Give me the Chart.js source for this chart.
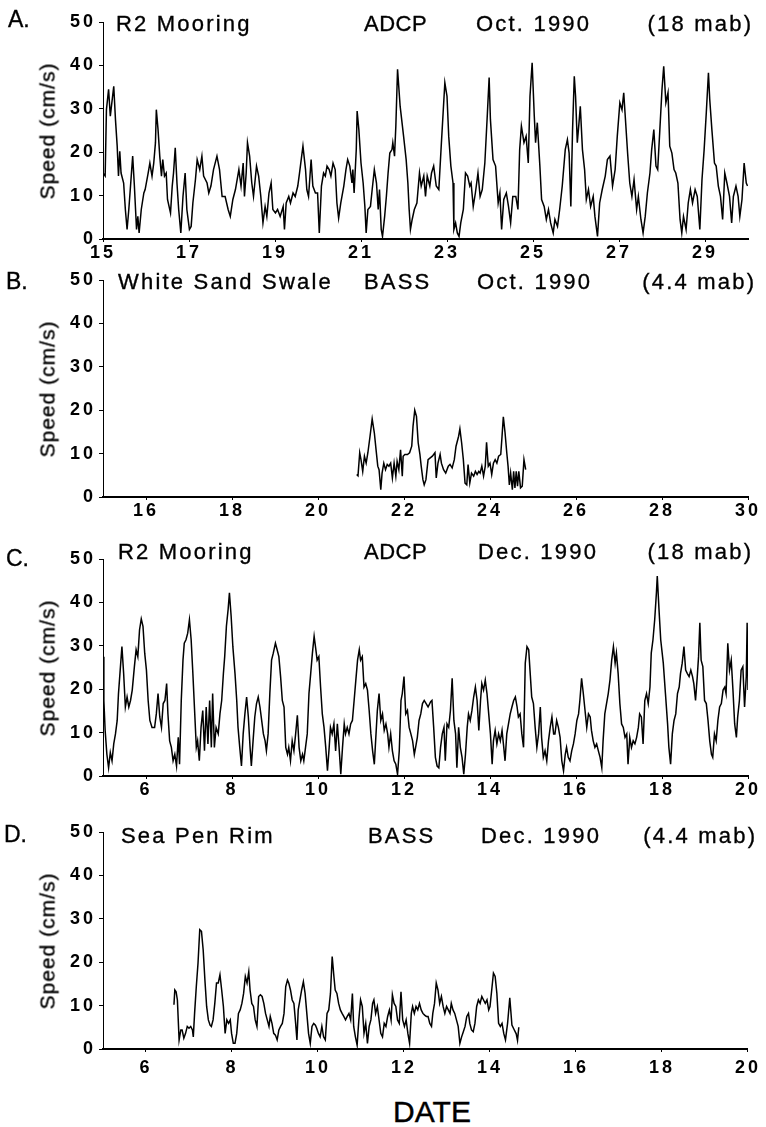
<!DOCTYPE html>
<html><head><meta charset="utf-8">
<script src="https://cdn.jsdelivr.net/npm/chart.js@4.4.1/dist/chart.umd.min.js"></script>
<style>
html,body{margin:0;padding:0;background:#fff;}
#wrap{position:relative;width:766px;height:1127px;overflow:hidden;background:#fff;font-family:"Liberation Sans",Arial,Helvetica,sans-serif;color:#000;}
#wrap canvas{position:absolute;left:0;}
.t{position:absolute;white-space:nowrap;font-size:22px;line-height:22px;letter-spacing:2.2px;-webkit-text-stroke:0.35px #000;}
.lt{position:absolute;white-space:nowrap;font-size:23px;line-height:23px;-webkit-text-stroke:0.35px #000;}
.yl{position:absolute;white-space:nowrap;font-size:21px;line-height:21px;letter-spacing:1px;-webkit-text-stroke:0.35px #000;transform:translate(-50%,-50%) rotate(-90deg);}
.xl{position:absolute;white-space:nowrap;font-size:30px;line-height:30px;-webkit-text-stroke:0.4px #000;transform:translateX(-50%);}
</style></head><body><div id="wrap"></div>
<script>
// ---------- DATA ----------
const panelLetters = ['A.', 'B.', 'C.', 'D.'];
const titlesA = ['R2 Mooring', 'ADCP', 'Oct. 1990', '(18 mab)'];
const titlesB = ['White Sand Swale', 'BASS', 'Oct. 1990', '(4.4 mab)'];
const titlesC = ['R2 Mooring', 'ADCP', 'Dec. 1990', '(18 mab)'];
const titlesD = ['Sea Pen Rim', 'BASS', 'Dec. 1990', '(4.4 mab)'];
const yAxisTitle = 'Speed (cm/s)';
const xAxisTitle = 'DATE';
const yTicks = [0, 10, 20, 30, 40, 50];
const xTicksA = [15, 17, 19, 21, 23, 25, 27, 29];
const xTicksB = [16, 18, 20, 22, 24, 26, 28, 30];
const xTicksCD = [6, 8, 10, 12, 14, 16, 18, 20];

// [day, speed cm/s]
const seriesA = [
[15.00,15.2],[15.05,14.5],[15.08,29.8],[15.13,34.5],[15.17,28.3],[15.25,35.2],[15.29,27.5],[15.33,21.4],[15.36,14.5],[15.39,20.2],
[15.42,15.2],[15.48,12.9],[15.52,6.8],[15.56,2.2],[15.60,6.8],[15.64,12.2],[15.69,19.1],[15.73,12.2],[15.78,2.2],[15.81,5.2],
[15.84,1.4],[15.89,6.8],[15.95,10.6],[15.98,11.4],[16.05,15.2],[16.09,17.5],[16.14,14.5],[16.18,17.5],[16.22,22.2],[16.24,29.8],
[16.28,25.2],[16.32,19.1],[16.36,14.5],[16.39,18.3],[16.43,14.5],[16.47,15.2],[16.50,9.1],[16.57,6.0],[16.61,12.2],[16.64,15.2],
[16.68,21.0],[16.72,12.9],[16.76,6.8],[16.81,1.4],[16.86,9.8],[16.91,15.2],[16.95,6.8],[17.01,2.2],[17.05,2.9],[17.09,8.3],
[17.15,13.7],[17.19,18.3],[17.25,16.0],[17.30,19.1],[17.34,14.5],[17.42,12.9],[17.46,10.6],[17.51,12.2],[17.57,16.0],[17.65,19.1],
[17.71,16.0],[17.77,9.8],[17.84,9.8],[17.91,6.8],[17.96,5.2],[18.02,9.1],[18.08,11.4],[18.16,16.0],[18.21,12.2],[18.26,17.5],
[18.29,9.8],[18.33,15.2],[18.36,22.2],[18.41,19.1],[18.46,12.9],[18.50,9.8],[18.57,16.8],[18.62,14.5],[18.67,9.8],[18.72,3.7],
[18.77,7.5],[18.81,5.2],[18.86,10.6],[18.91,12.9],[18.95,6.8],[19.01,6.0],[19.06,6.8],[19.12,5.2],[19.19,7.5],[19.22,2.2],
[19.26,8.3],[19.32,9.8],[19.36,8.3],[19.42,10.6],[19.47,9.8],[19.53,12.2],[19.57,15.2],[19.62,19.1],[19.65,21.4],[19.71,16.0],
[19.74,11.4],[19.78,9.8],[19.84,18.3],[19.88,12.2],[19.94,10.6],[19.99,10.6],[20.03,1.4],[20.08,12.2],[20.13,15.2],[20.17,14.5],
[20.21,16.8],[20.26,16.0],[20.30,14.5],[20.35,17.5],[20.40,16.0],[20.44,8.3],[20.48,4.8],[20.53,8.3],[20.60,12.2],[20.65,16.0],
[20.69,18.3],[20.74,16.8],[20.79,12.9],[20.81,16.0],[20.84,10.6],[20.89,20.6],[20.91,29.5],[20.95,25.2],[21.00,17.5],[21.05,12.9],
[21.09,7.5],[21.12,1.4],[21.16,6.8],[21.22,7.5],[21.26,11.4],[21.31,16.0],[21.36,12.9],[21.40,6.8],[21.43,11.4],[21.47,2.2],
[21.50,0.6],[21.55,5.2],[21.59,9.8],[21.63,15.2],[21.67,19.8],[21.72,20.6],[21.74,22.2],[21.78,19.1],[21.81,26.0],[21.85,39.1],
[21.91,30.6],[21.99,23.7],[22.05,18.3],[22.09,12.9],[22.12,6.8],[22.15,2.2],[22.19,4.5],[22.24,6.8],[22.30,8.3],[22.36,15.2],
[22.40,12.2],[22.46,14.5],[22.50,9.8],[22.54,14.5],[22.60,12.2],[22.64,15.2],[22.69,16.8],[22.75,12.2],[22.81,11.4],[22.87,22.2],
[22.91,29.1],[22.95,36.0],[23.00,32.9],[23.04,23.7],[23.09,16.8],[23.14,12.9],[23.16,2.2],[23.20,3.7],[23.24,1.4],[23.28,0.6],
[23.32,3.7],[23.38,6.8],[23.43,15.2],[23.48,14.5],[23.53,12.2],[23.56,12.9],[23.61,7.5],[23.66,10.6],[23.72,15.2],[23.77,9.8],
[23.82,11.4],[23.88,17.5],[23.94,29.1],[23.98,37.2],[24.01,27.5],[24.07,18.3],[24.13,16.8],[24.19,8.3],[24.23,10.6],[24.27,2.2],
[24.32,9.1],[24.38,10.6],[24.43,7.5],[24.48,3.7],[24.53,9.8],[24.60,9.8],[24.65,6.8],[24.69,20.6],[24.73,26.0],[24.79,22.2],
[24.84,23.7],[24.89,17.5],[24.93,32.9],[24.98,40.6],[25.03,28.3],[25.06,22.2],[25.10,26.8],[25.16,16.8],[25.20,9.1],[25.26,7.5],
[25.31,4.5],[25.36,6.8],[25.41,3.7],[25.47,1.4],[25.51,4.5],[25.57,2.9],[25.62,6.8],[25.68,12.2],[25.75,20.6],[25.80,22.9],
[25.84,19.8],[25.88,7.5],[25.92,25.2],[25.96,37.5],[25.99,32.9],[26.03,22.2],[26.07,26.8],[26.10,30.6],[26.15,20.6],[26.20,16.0],
[26.24,9.1],[26.29,11.4],[26.34,7.5],[26.40,9.8],[26.44,5.2],[26.50,0.6],[26.55,8.3],[26.61,11.4],[26.68,14.5],[26.73,18.3],
[26.79,19.1],[26.85,12.2],[26.91,16.0],[26.96,23.7],[27.02,31.4],[27.07,29.8],[27.11,33.7],[27.14,29.1],[27.20,19.8],[27.25,12.9],
[27.30,9.8],[27.35,13.7],[27.41,6.8],[27.45,9.8],[27.51,4.5],[27.56,1.4],[27.61,5.2],[27.66,10.6],[27.72,15.2],[27.76,20.6],
[27.81,25.2],[27.86,16.8],[27.90,16.0],[27.95,25.2],[28.00,34.5],[28.04,39.8],[28.09,31.4],[28.14,33.7],[28.18,21.4],[28.23,19.8],
[28.28,16.0],[28.32,15.2],[28.37,12.9],[28.42,4.5],[28.46,1.4],[28.50,5.2],[28.56,2.2],[28.61,8.3],[28.66,11.4],[28.71,8.3],
[28.77,11.4],[28.82,9.8],[28.88,2.2],[28.93,13.7],[28.98,20.6],[29.03,29.1],[29.08,38.3],[29.11,32.2],[29.16,25.2],[29.22,17.5],
[29.26,16.8],[29.31,12.2],[29.36,9.8],[29.41,4.5],[29.46,15.2],[29.51,12.9],[29.57,9.8],[29.62,3.7],[29.66,9.8],[29.72,12.2],
[29.77,9.8],[29.81,5.2],[29.86,9.1],[29.91,17.5],[29.96,12.9],[29.99,12.2]
];

const seriesB = [
[20.90,5.2],[20.93,4.9],[20.97,10.2],[21.00,8.6],[21.04,5.9],[21.08,9.4],[21.12,7.8],[21.16,10.2],[21.21,14.0],[21.26,18.0],
[21.31,14.8],[21.35,10.9],[21.39,7.1],[21.42,6.3],[21.46,1.7],[21.49,5.5],[21.53,7.8],[21.57,6.3],[21.61,7.5],[21.65,7.1],
[21.69,7.8],[21.73,4.4],[21.77,7.8],[21.81,4.8],[21.84,8.2],[21.88,6.3],[21.92,10.9],[21.96,4.8],[21.98,9.4],[22.02,9.8],
[22.08,9.8],[22.13,10.2],[22.18,11.7],[22.21,16.3],[22.25,20.0],[22.29,18.6],[22.33,12.5],[22.37,9.8],[22.40,7.1],[22.44,4.0],
[22.47,2.8],[22.51,4.0],[22.56,8.6],[22.61,9.0],[22.66,9.4],[22.72,10.2],[22.75,4.4],[22.79,7.8],[22.84,9.8],[22.87,7.8],
[22.92,6.3],[22.97,5.5],[23.03,7.1],[23.07,7.5],[23.12,6.7],[23.17,8.6],[23.21,11.7],[23.27,14.0],[23.30,15.7],[23.34,12.5],
[23.38,8.6],[23.42,3.2],[23.46,2.8],[23.49,7.5],[23.53,3.2],[23.57,5.5],[23.62,4.8],[23.66,5.9],[23.70,5.2],[23.74,5.9],
[23.77,5.5],[23.81,7.1],[23.85,4.8],[23.89,7.1],[23.92,12.6],[23.96,7.1],[24.00,7.8],[24.04,5.2],[24.08,7.8],[24.12,8.6],
[24.16,7.8],[24.20,9.4],[24.25,9.8],[24.28,14.0],[24.31,18.5],[24.35,14.8],[24.39,10.2],[24.42,7.1],[24.45,2.8],[24.48,5.5],
[24.52,1.7],[24.55,5.9],[24.58,2.1],[24.61,5.9],[24.64,2.5],[24.67,5.9],[24.71,2.1],[24.75,2.5],[24.79,8.6],[24.83,6.3]
];

const seriesC = [
[5.00,27.5],[5.02,17.4],[5.05,10.5],[5.09,5.0],[5.13,1.9],[5.17,5.4],[5.21,3.5],[5.25,7.4],[5.29,9.7],[5.33,12.8],
[5.36,19.0],[5.40,24.4],[5.44,29.8],[5.48,23.6],[5.52,15.9],[5.56,18.2],[5.60,15.9],[5.64,17.4],[5.68,19.8],[5.73,25.2],
[5.77,29.1],[5.81,27.5],[5.85,33.7],[5.89,36.2],[5.93,34.5],[5.97,28.3],[6.01,24.4],[6.05,17.4],[6.09,12.8],[6.14,11.2],
[6.20,11.2],[6.24,14.3],[6.28,19.0],[6.32,13.6],[6.36,11.2],[6.40,16.7],[6.44,17.4],[6.48,21.3],[6.51,14.3],[6.55,8.1],
[6.59,6.6],[6.63,3.5],[6.67,5.0],[6.71,2.3],[6.75,8.9],[6.78,2.7],[6.82,17.4],[6.86,26.7],[6.89,30.6],[6.93,31.4],
[6.97,32.9],[7.01,36.0],[7.05,31.4],[7.09,23.6],[7.13,15.1],[7.17,6.6],[7.20,8.1],[7.24,3.5],[7.28,11.2],[7.32,15.1],
[7.36,5.8],[7.40,15.9],[7.44,7.4],[7.48,17.4],[7.52,6.6],[7.55,19.0],[7.59,6.6],[7.63,11.2],[7.68,9.7],[7.72,14.3],
[7.76,17.4],[7.80,23.6],[7.83,27.5],[7.87,34.5],[7.91,38.4],[7.94,42.2],[7.98,36.8],[8.02,29.8],[8.07,23.6],[8.11,17.4],
[8.14,11.2],[8.18,6.6],[8.22,2.3],[8.26,9.7],[8.30,14.3],[8.34,18.2],[8.38,13.6],[8.42,6.6],[8.45,2.3],[8.49,8.1],
[8.53,13.6],[8.57,16.7],[8.61,18.2],[8.65,15.9],[8.69,12.8],[8.73,9.7],[8.77,8.1],[8.80,5.8],[8.84,9.7],[8.88,19.0],
[8.92,26.7],[8.96,28.3],[9.01,30.6],[9.05,29.1],[9.09,27.5],[9.13,22.9],[9.17,17.4],[9.21,15.9],[9.25,6.6],[9.29,5.0],
[9.32,6.6],[9.36,3.5],[9.40,8.1],[9.44,5.8],[9.48,9.7],[9.52,14.0],[9.56,6.6],[9.60,3.5],[9.64,5.0],[9.67,3.5],
[9.71,6.6],[9.75,9.7],[9.79,19.0],[9.83,23.6],[9.87,28.3],[9.91,32.2],[9.95,29.1],[9.98,26.7],[10.02,27.5],[10.06,20.5],
[10.10,14.3],[10.14,11.2],[10.18,6.6],[10.22,1.2],[10.26,6.6],[10.29,11.2],[10.33,9.7],[10.37,12.0],[10.41,5.8],[10.45,12.0],
[10.49,6.6],[10.53,0.4],[10.57,6.6],[10.61,12.0],[10.64,9.7],[10.68,11.2],[10.72,9.7],[10.76,12.0],[10.80,12.8],[10.84,17.4],
[10.88,22.1],[10.92,26.7],[10.96,29.1],[10.99,26.7],[11.03,27.5],[11.07,20.5],[11.11,21.3],[11.15,19.8],[11.19,15.1],[11.23,9.7],
[11.27,5.8],[11.31,2.7],[11.34,8.1],[11.38,15.1],[11.42,19.0],[11.46,12.8],[11.50,14.3],[11.54,10.5],[11.58,12.0],[11.62,9.7],
[11.65,6.6],[11.69,9.7],[11.73,5.8],[11.77,3.5],[11.81,2.7],[11.85,0.4],[11.89,5.8],[11.93,17.4],[11.96,19.0],[12.00,22.9],
[12.04,14.3],[12.08,15.1],[12.12,11.2],[12.16,9.7],[12.20,8.1],[12.24,5.0],[12.27,6.6],[12.31,8.9],[12.35,12.8],[12.39,14.3],
[12.43,16.7],[12.47,17.4],[12.56,15.9],[12.62,17.1],[12.65,17.4],[12.69,11.2],[12.73,4.3],[12.77,2.3],[12.81,1.9],[12.85,6.6],
[12.89,9.7],[12.93,11.2],[12.96,3.5],[13.00,12.0],[13.04,11.2],[13.08,15.1],[13.12,22.5],[13.16,12.8],[13.20,9.7],[13.23,1.9],
[13.27,11.2],[13.31,6.6],[13.35,4.3],[13.39,0.4],[13.43,5.0],[13.47,11.2],[13.50,14.3],[13.54,12.8],[13.58,15.1],[13.62,18.2],
[13.66,20.5],[13.70,17.4],[13.74,10.5],[13.78,17.4],[13.81,21.3],[13.85,19.8],[13.89,22.1],[13.93,19.0],[13.97,14.3],[14.01,9.7],
[14.05,2.7],[14.08,8.1],[14.12,10.5],[14.16,7.4],[14.20,9.7],[14.24,8.1],[14.28,10.5],[14.32,6.6],[14.35,3.5],[14.39,9.7],
[14.43,12.0],[14.47,14.3],[14.51,15.9],[14.55,17.4],[14.59,18.2],[14.63,15.9],[14.66,13.6],[14.70,14.3],[14.74,9.7],[14.78,6.6],
[14.82,26.0],[14.86,29.8],[14.90,29.1],[14.93,24.4],[14.97,18.2],[15.01,16.7],[15.05,11.2],[15.09,6.6],[15.13,9.7],[15.17,15.9],
[15.20,8.9],[15.24,4.3],[15.28,5.8],[15.32,3.5],[15.36,8.1],[15.40,11.2],[15.44,13.6],[15.48,9.7],[15.51,9.7],[15.55,12.8],
[15.59,11.2],[15.63,8.9],[15.67,3.5],[15.71,1.2],[15.75,5.0],[15.78,6.6],[15.82,4.3],[15.86,3.5],[15.90,5.8],[15.94,7.4],
[15.98,9.7],[16.02,12.8],[16.06,14.3],[16.09,17.4],[16.13,22.5],[16.17,19.0],[16.21,15.1],[16.25,11.2],[16.29,14.3],[16.33,13.6],
[16.36,10.5],[16.40,8.1],[16.44,6.6],[16.48,7.4],[16.52,5.8],[16.56,4.3],[16.60,1.9],[16.63,8.1],[16.67,14.3],[16.71,16.7],
[16.75,19.0],[16.79,22.1],[16.83,26.7],[16.87,29.8],[16.91,26.0],[16.94,28.3],[16.98,23.6],[17.02,16.7],[17.06,12.0],[17.10,11.2],
[17.14,8.9],[17.18,9.7],[17.21,2.7],[17.25,8.9],[17.29,6.6],[17.33,8.1],[17.37,7.4],[17.41,8.9],[17.45,11.2],[17.48,14.3],
[17.52,13.6],[17.56,7.4],[17.60,17.4],[17.64,19.0],[17.68,16.7],[17.72,20.5],[17.75,28.3],[17.79,31.4],[17.83,36.0],[17.87,42.2],
[17.89,46.1],[17.93,38.4],[17.97,31.4],[18.03,26.0],[18.08,19.0],[18.13,12.0],[18.16,6.6],[18.20,2.7],[18.24,9.7],[18.28,12.8],
[18.32,14.3],[18.36,19.0],[18.40,20.5],[18.43,23.6],[18.47,26.0],[18.51,29.8],[18.55,24.4],[18.59,23.6],[18.63,22.9],[18.67,24.4],
[18.71,22.9],[18.74,21.3],[18.78,17.4],[18.82,22.9],[18.85,27.5],[18.88,35.3],[18.91,26.7],[18.95,25.2],[18.99,17.4],[19.03,16.7],
[19.07,12.8],[19.11,8.1],[19.15,5.0],[19.18,4.3],[19.22,9.7],[19.26,8.1],[19.30,12.8],[19.34,15.9],[19.38,16.7],[19.42,19.8],
[19.46,20.5],[19.49,19.0],[19.53,30.6],[19.57,24.4],[19.61,26.7],[19.65,19.8],[19.69,12.0],[19.73,8.9],[19.76,13.6],[19.80,17.4],
[19.84,24.4],[19.88,25.2],[19.92,15.9],[19.96,22.9],[19.98,35.3],[20.00,19.8]
];

const seriesD = [
[6.65,10.2],[6.67,13.6],[6.70,13.2],[6.73,11.3],[6.77,2.1],[6.81,4.4],[6.84,4.4],[6.88,2.5],[6.92,3.6],[6.96,5.2],
[7.00,4.8],[7.04,5.2],[7.08,4.4],[7.10,2.8],[7.13,8.2],[7.17,14.4],[7.21,19.8],[7.25,27.5],[7.29,27.1],[7.33,22.8],
[7.37,15.9],[7.41,9.8],[7.45,6.7],[7.49,5.5],[7.52,5.2],[7.56,6.7],[7.60,10.5],[7.64,15.2],[7.68,15.2],[7.72,17.1],
[7.76,13.6],[7.80,9.8],[7.84,3.6],[7.88,6.7],[7.92,5.9],[7.96,6.7],[7.99,3.6],[8.03,1.3],[8.07,1.3],[8.11,3.6],
[8.15,8.2],[8.19,9.0],[8.23,10.5],[8.27,12.8],[8.31,16.7],[8.35,15.2],[8.39,17.8],[8.42,13.6],[8.46,10.5],[8.50,9.8],
[8.54,6.7],[8.58,5.2],[8.62,12.1],[8.66,12.5],[8.70,12.1],[8.74,10.5],[8.78,8.2],[8.82,6.7],[8.86,5.2],[8.89,7.5],
[8.93,5.9],[8.97,3.6],[9.01,3.2],[9.05,2.1],[9.09,4.4],[9.13,5.2],[9.17,5.9],[9.21,8.2],[9.25,14.4],[9.29,15.9],
[9.32,15.2],[9.36,13.6],[9.40,11.3],[9.44,10.5],[9.48,5.9],[9.51,2.1],[9.54,9.0],[9.58,11.3],[9.62,13.6],[9.66,15.5],
[9.70,12.8],[9.74,8.2],[9.78,3.6],[9.82,1.3],[9.86,5.2],[9.90,5.9],[9.94,5.5],[9.97,4.8],[10.01,3.6],[10.05,2.8],
[10.09,5.2],[10.13,2.8],[10.17,2.1],[10.21,8.2],[10.25,9.0],[10.29,12.8],[10.33,21.3],[10.37,16.7],[10.40,13.6],[10.44,12.8],
[10.48,10.5],[10.52,9.0],[10.56,8.2],[10.60,7.5],[10.64,6.7],[10.68,7.5],[10.72,8.2],[10.76,6.7],[10.80,12.8],[10.83,5.2],
[10.87,2.8],[10.91,0.9],[10.95,6.7],[10.99,11.3],[11.03,9.8],[11.07,3.6],[11.11,5.9],[11.15,1.3],[11.19,5.2],[11.23,6.7],
[11.27,10.5],[11.30,11.3],[11.34,8.2],[11.38,9.8],[11.42,6.7],[11.46,3.6],[11.50,2.8],[11.54,5.9],[11.58,5.2],[11.62,7.5],
[11.66,9.0],[11.70,6.7],[11.73,12.5],[11.77,10.5],[11.81,9.8],[11.85,6.7],[11.89,5.9],[11.93,13.2],[11.97,6.7],[12.01,5.2],
[12.05,6.7],[12.09,3.6],[12.13,1.3],[12.17,8.2],[12.20,9.8],[12.24,8.2],[12.28,9.8],[12.32,9.0],[12.36,10.5],[12.40,9.0],
[12.44,8.2],[12.48,7.8],[12.52,7.5],[12.56,7.5],[12.60,5.9],[12.64,5.2],[12.67,8.2],[12.71,10.5],[12.75,15.2],[12.79,13.6],
[12.83,10.5],[12.87,12.1],[12.91,9.8],[12.95,8.2],[12.99,9.8],[13.03,9.0],[13.07,8.2],[13.10,10.5],[13.14,9.0],[13.18,8.2],
[13.22,6.7],[13.26,5.2],[13.30,1.3],[13.34,2.8],[13.38,4.0],[13.42,5.2],[13.46,7.5],[13.50,8.2],[13.53,5.9],[13.57,4.4],
[13.61,4.0],[13.65,5.9],[13.69,9.8],[13.73,11.3],[13.77,10.5],[13.81,12.1],[13.85,11.3],[13.89,10.5],[13.93,11.3],[13.97,9.0],
[14.00,9.8],[14.04,13.6],[14.08,17.5],[14.12,16.7],[14.16,12.8],[14.20,5.9],[14.24,5.2],[14.28,5.9],[14.32,3.6],[14.36,2.1],
[14.41,6.0],[14.46,11.8],[14.51,5.5],[14.56,4.5],[14.61,3.5],[14.64,2.0],[14.67,5.0]
];

// ---------- LAYOUT ----------
const FONT = "'Liberation Sans', Arial, Helvetica, sans-serif";
const W = 766;
const panels = [
  {series: seriesA, ticks: xTicksA, min: 15, max: 30, canvasTop: 0,   labelPad: 0, titles: titlesA, letter: panelLetters[0],
   letterX: 8, letterCy: 19, titleCy: 23.5, titleX: [116, 364, 476], titleRight: 751},
  {series: seriesB, ticks: xTicksB, min: 15, max: 30, canvasTop: 258, labelPad: 0, titles: titlesB, letter: panelLetters[1],
   letterX: 6, letterCy: 281, titleCy: 282, titleX: [118, 364, 477], titleRight: 754},
  {series: seriesC, ticks: xTicksCD, min: 5, max: 20, canvasTop: 537, labelPad: 0, titles: titlesC, letter: panelLetters[2],
   letterX: 6, letterCy: 558, titleCy: 552, titleX: [118, 364, 478], titleRight: 751},
  {series: seriesD, ticks: xTicksCD, min: 5, max: 20, canvasTop: 810, labelPad: 5, titles: titlesD, letter: panelLetters[3],
   letterX: 4, letterCy: 834, titleCy: 836, titleX: [121, 368, 481], titleRight: 755}
];
const PAD_TOP = 22, PLOT_H = 217, X_AXIS_H = 40, Y_AXIS_W = 103, PAD_RIGHT = 18;
const CANVAS_H = PAD_TOP + PLOT_H + X_AXIS_H;
const TITLE_FS = 22, LETTER_FS = 23;

const wrap = document.getElementById('wrap');

const spacing = {
  id: 'letterSpacing',
  beforeUpdate(c) { c.ctx.letterSpacing = '3px'; },
  beforeDraw(c) { c.ctx.letterSpacing = '3px'; }
};

function addText(cls, txt, styles) {
  const d = document.createElement('div');
  d.className = cls;
  d.textContent = txt;
  Object.assign(d.style, styles);
  wrap.appendChild(d);
  return d;
}

panels.forEach(p => {
  const cv = document.createElement('canvas');
  cv.width = W; cv.height = CANVAS_H;
  cv.style.top = p.canvasTop + 'px';
  cv.style.width = W + 'px'; cv.style.height = CANVAS_H + 'px';
  wrap.appendChild(cv);

  new Chart(cv, {
    type: 'line',
    data: { datasets: [{
      data: p.series.map(d => ({x: d[0], y: d[1]})),
      borderColor: '#000', borderWidth: 1.5, pointRadius: 0, tension: 0, fill: false
    }]},
    options: {
      responsive: false, animation: false, devicePixelRatio: 1, events: [],
      layout: { padding: { top: PAD_TOP, left: 0, right: PAD_RIGHT, bottom: 0 } },
      plugins: { legend: { display: false }, tooltip: { enabled: false }, title: { display: false } },
      scales: {
        x: {
          type: 'linear', min: p.min, max: p.max,
          afterBuildTicks: s => { s.ticks = p.ticks.map(v => ({ value: v })); },
          afterFit: s => { s.height = X_AXIS_H; },
          ticks: { autoSkip: false, maxRotation: 0, minRotation: 0, padding: p.labelPad, color: '#000',
                   font: { family: FONT, size: 18, weight: 'bold' } },
          grid: { drawOnChartArea: false, drawTicks: true, tickLength: 3, color: '#000', lineWidth: 1 },
          border: { display: true, color: '#000', width: 2 }
        },
        y: {
          type: 'linear', min: 0, max: 50,
          afterBuildTicks: s => { s.ticks = yTicks.map(v => ({ value: v })); },
          afterFit: s => { s.width = Y_AXIS_W; },
          ticks: { padding: 3, color: '#000', font: { family: FONT, size: 18, weight: 'bold' } },
          grid: { drawOnChartArea: false, drawTicks: true, tickLength: 4, color: '#000', lineWidth: 1 },
          border: { display: true, color: '#000', width: 1 }
        }
      }
    },
    plugins: [spacing]
  });

  addText('lt', p.letter, { left: p.letterX + 'px', top: (p.letterCy - 0.49 * LETTER_FS) + 'px' });
  for (let i = 0; i < 3; i++) {
    const el = addText('t', p.titles[i], { left: p.titleX[i] + 'px', top: (p.titleCy - 0.49 * TITLE_FS) + 'px' });
    if (p.titles[i] === 'ADCP') el.style.letterSpacing = '0.5px';
  }
  addText('t', p.titles[3], { right: (W - p.titleRight - 2.2) + 'px', top: (p.titleCy - 0.49 * TITLE_FS) + 'px' });
  const cy = p.canvasTop + PAD_TOP + PLOT_H / 2;
  addText('yl', yAxisTitle, { left: '47px', top: cy + 'px' });
});

addText('xl', xAxisTitle, { left: '432px', top: (1112 - 0.49 * 30) + 'px' });
</script></body></html>
